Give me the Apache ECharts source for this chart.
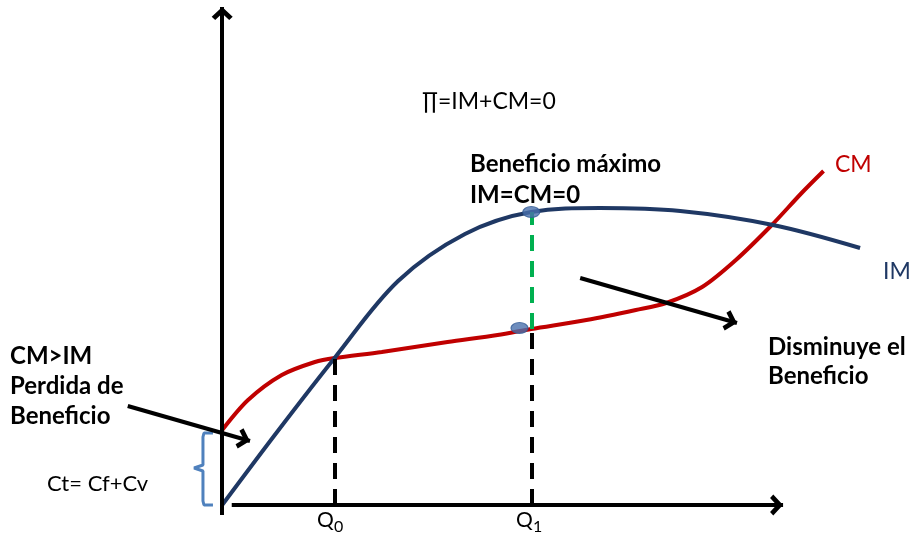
<!DOCTYPE html>
<html>
<head>
<meta charset="utf-8">
<script src="https://cdn.jsdelivr.net/npm/echarts@6/dist/echarts.min.js"></script>
<style>html,body{margin:0;padding:0;background:#fff}#c{width:914px;height:533px}</style>
</head>
<body>
<div id="c"></div>
<script>
// ---- Data (abstract units: Q on x, money on y) ----
var imX = [0, 9.9, 20, 31.3, 43.2, 55, 67.2, 81.5, 98, 113.5];
var imY = [0, 14.8, 29.4, 44.8, 54.2, 58.6, 59.4, 58.8, 56, 51.4];
var cmX = [0, 4.6, 10.6, 16.5, 20, 28.4, 40.1, 49, 55, 64.8, 73.6, 79, 85.4, 91.4, 97.8, 103.1, 107];
var cmY = [15, 21, 26, 28.6, 29.4, 30.6, 32.6, 34, 35.2, 37, 39, 40.4, 43.6, 49, 56, 62.4, 66.8];
var qValues = [20, 55];            // Q0, Q1
var qLabels = ['0', '1'];
var imAtQ1 = 58.6, cmAtQ0 = 29.4, cmAtQ1 = 35.2;
var dotX = [55, 52.9];
var dotY = [58.6, 35.4];
// annotation arrows [x0,y0,x1,y1]
var arrow1 = [-16.8, 19.8, 4.95, 12.8];
var arrow2 = [63.7, 45.4, 91.6, 36.4];
// brace for fixed cost
var braceX = [-1.64, -3.24, -3.42, -3.42, -5.0, -3.42, -3.42, -3.24, -1.64];
var braceY = [14.4, 14.4, 13.6, 8, 7.4, 6.8, 0.8, 0, 0];
// axes extents
var yAxisLine = [0, -2, 0, 99.6];
var xAxisLine = [1.7, 0, 99.8, 0];

var NAVY = '#1F3864', RED = '#C00000', GREEN = '#00B050', BLACK = '#000';
var FONT = 'Lato, "Open Sans", sans-serif';
var chev = 'path://M10,-13 L10.01,-13 Z M10,0 L19.6,9.6 L16.4,12.8 L10,6.4 L3.6,12.8 L0.4,9.6 Z';

function pairs(xs, ys) { return xs.map(function (x, i) { return [x, ys[i]]; }); }
function seg(a) { return [{coord: [a[0], a[1]]}, {coord: [a[2], a[3]]}]; }

var chart = echarts.init(document.getElementById('c'), null, {renderer: 'canvas'});
function txt(x, y, s, size, weight, color) {
  return {type: 'text', x: x, y: y, z: 100, silent: true,
    style: {text: s, fontSize: size, fontWeight: weight, fontFamily: FONT, fill: color, verticalAlign: 'middle'}};
}
chart.setOption({
  animation: false,
  backgroundColor: '#fff',
  grid: {left: 3, top: 5, width: 865.5, height: 525},
  xAxis: {type: 'value', min: -39, max: 115, show: false},
  yAxis: {type: 'value', min: -5, max: 100, show: false},
  series: [
    {
      type: 'line', data: [], z: 1, silent: true,
      markLine: {
        silent: true, animation: false, label: {show: false},
        symbol: ['none', chev], symbolSize: [21, 26],
        lineStyle: {color: BLACK, width: 4, type: 'solid'},
        data: [seg(yAxisLine), seg(xAxisLine), seg(arrow1), seg(arrow2)]
      }
    },
    {
      type: 'line', data: [], z: 2, silent: true,
      markLine: {
        silent: true, animation: false, label: {show: false}, symbol: ['none', 'none'],
        data: [
          [{coord: [qValues[0], 0], lineStyle: {color: BLACK, width: 4, type: [16, 10]}}, {coord: [qValues[0], cmAtQ0]}],
          [{coord: [qValues[1], 0], lineStyle: {color: BLACK, width: 4, type: [16, 10]}}, {coord: [qValues[1], cmAtQ1]}],
          [{coord: [qValues[1], cmAtQ1], lineStyle: {color: GREEN, width: 4, type: [16, 10]}}, {coord: [qValues[1], imAtQ1]}]
        ]
      }
    },
    {
      name: 'CM', type: 'line', data: pairs(cmX, cmY), smooth: 0.3, showSymbol: false, z: 3, silent: true,
      clip: false, lineStyle: {color: RED, width: 4}
    },
    {
      name: 'IM', type: 'line', data: pairs(imX, imY), smooth: 0.35, showSymbol: false, z: 4, silent: true,
      clip: false, lineStyle: {color: NAVY, width: 4}
    },
    {
      type: 'line', data: pairs(braceX, braceY), showSymbol: false, z: 3, silent: true, clip: false,
      lineStyle: {color: '#4F81BD', width: 3}
    },
    {
      type: 'scatter', data: pairs(dotX, dotY), symbol: 'circle', symbolSize: [17, 11], z: 5, silent: true,
      itemStyle: {color: '#4A70AC', borderColor: '#355C96', borderWidth: 1}
    }
  ],
  graphic: [
    txt(422, 102, '\u220F=IM+CM=0', 23, 'normal', '#000'),
    txt(470, 164, 'Beneficio máximo', 24, 'bold', '#000'),
    txt(470, 195, 'IM=CM=0', 24, 'bold', '#000'),
    txt(835, 165, 'CM', 23, 'normal', RED),
    txt(883, 272, 'IM', 23, 'normal', NAVY),
    txt(10, 356, 'CM>IM', 24, 'bold', '#000'),
    txt(10, 386, 'Perdida de', 24, 'bold', '#000'),
    txt(10, 416, 'Beneficio', 24, 'bold', '#000'),
    txt(47, 484, 'Ct= Cf+Cv', 22, 'normal', '#000'),
    txt(768, 347, 'Disminuye el', 24, 'bold', '#000'),
    txt(768, 376, 'Beneficio', 24, 'bold', '#000'),
    txt(317, 520, 'Q', 21, 'normal', '#000'),
    txt(334, 527, qLabels[0], 16, 'normal', '#000'),
    txt(516, 520, 'Q', 21, 'normal', '#000'),
    txt(533, 527, qLabels[1], 16, 'normal', '#000')
  ]
});
</script>
</body>
</html>
